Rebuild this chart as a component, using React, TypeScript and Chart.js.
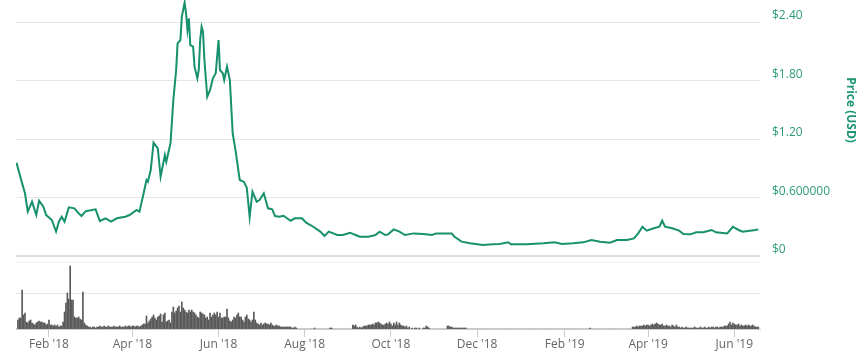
import React, { useEffect, useRef } from 'react';
import { Chart, registerables } from 'chart.js';

Chart.register(...registerables);

// x values are days counted from 2018-02-01
const tickDays = [0, 59, 120, 181, 242, 303, 365, 424, 485];
const tickLabels = ["Feb '18", "Apr '18", "Jun '18", "Aug '18", "Oct '18", "Dec '18", "Feb '19", "Apr '19", "Jun '19"];

const priceTicks = [0, 0.6, 1.2, 1.8, 2.4];
const priceTickLabels = ['$0', '$0.600000', '$1.20', '$1.80', '$2.40'];

const priceDays = [
  -23, -19, -17, -15, -12, -9, -7, -4, -2, 2, 5, 7, 9, 11, 14, 18, 21, 23, 26, 33,
  36, 40, 44, 48, 54, 57, 62, 64, 67, 69, 70, 72, 74, 77, 79, 82, 83, 86, 88, 90,
  91, 93, 94, 96, 97, 98, 99, 100, 102, 103, 105, 106, 107, 108, 109, 110, 112, 114, 116, 118,
  120, 121, 123, 124, 126, 128, 130, 132, 135, 138, 140, 142, 144, 147, 149, 152, 155, 158, 160, 163,
  166, 171, 174, 179, 182, 187, 192, 195, 198, 204, 208, 213, 217, 220, 226, 231, 234, 238, 240, 244,
  248, 252, 258, 265, 271, 274, 285, 287, 292, 298, 307, 314, 319, 325, 327, 338, 350, 358, 363, 371,
  378, 384, 390, 397, 402, 409, 414, 417, 420, 423, 428, 432, 434, 436, 441, 446, 449, 454, 458, 463,
  469, 472, 480, 484, 488, 491, 496, 500, 502,
];
const priceValues = [
  0.957, 0.745, 0.643, 0.455, 0.557, 0.42, 0.567, 0.506, 0.42, 0.369, 0.25, 0.352, 0.403, 0.352, 0.499, 0.489, 0.438, 0.41, 0.46, 0.479,
  0.359, 0.387, 0.352, 0.387, 0.403, 0.42, 0.472, 0.455, 0.643, 0.78, 0.762, 0.882, 1.162, 1.105, 0.813, 1.036, 0.967, 1.156, 1.6, 1.908,
  2.18, 2.215, 2.454, 2.6, 2.49, 2.318, 2.438, 2.164, 2.147, 1.942, 1.823, 1.908, 2.215, 2.352, 2.3, 2.01, 1.634, 1.703, 1.823, 1.874,
  2.215, 1.908, 1.874, 1.805, 1.942, 1.805, 1.258, 1.087, 0.78, 0.76, 0.7, 0.4, 0.66, 0.557, 0.574, 0.643, 0.489, 0.479, 0.41, 0.403,
  0.413, 0.362, 0.387, 0.387, 0.342, 0.3, 0.25, 0.205, 0.25, 0.215, 0.215, 0.239, 0.215, 0.198, 0.198, 0.215, 0.25, 0.215, 0.222, 0.273,
  0.25, 0.215, 0.232, 0.225, 0.215, 0.232, 0.232, 0.198, 0.147, 0.13, 0.113, 0.12, 0.123, 0.14, 0.12, 0.12, 0.13, 0.14, 0.123, 0.13,
  0.14, 0.164, 0.147, 0.137, 0.164, 0.164, 0.181, 0.232, 0.3, 0.26, 0.284, 0.3, 0.362, 0.3, 0.284, 0.26, 0.225, 0.222, 0.243, 0.243,
  0.267, 0.243, 0.232, 0.3, 0.267, 0.25, 0.26, 0.267, 0.273,
];

const volumeStartDay = -23;
const volumeValues = [
  0, 9, 11, 11, 39, 14, 16, 7, 6, 8, // -23
  9, 6, 5, 4, 6, 7, 8, 7, 7, 6, // -13
  6, 4, 5, 9, 4, 4, 3, 4, 3, 4, // -3
  2, 3, 3, 7, 17, 26, 36, 30, 63, 29, // 7
  29, 12, 11, 11, 12, 10, 9, 37, 6, 4, // 17
  3, 2, 2, 1, 2, 2, 1, 2, 2, 3, // 27
  2, 2, 3, 2, 2, 3, 2, 2, 2, 3, // 37
  2, 2, 2, 3, 2, 2, 2, 3, 2, 3, // 47
  3, 2, 3, 3, 2, 3, 3, 2, 3, 4, // 57
  5, 5, 13, 6, 8, 10, 12, 14, 11, 9, // 67
  12, 13, 15, 7, 14, 16, 7, 8, 9, 6, // 77
  17, 22, 16, 18, 21, 23, 17, 27, 21, 19, // 87
  17, 16, 19, 17, 19, 17, 16, 14, 12, 11, // 97
  17, 16, 15, 14, 11, 12, 9, 16, 12, 14, // 107
  16, 14, 17, 12, 16, 11, 11, 12, 12, 20, // 117
  11, 8, 7, 9, 12, 11, 14, 16, 12, 12, // 127
  9, 7, 12, 14, 10, 9, 7, 9, 17, 9, // 137
  6, 5, 4, 6, 4, 5, 6, 5, 5, 4, // 147
  6, 4, 3, 3, 4, 3, 3, 2, 2, 2, // 157
  2, 2, 2, 2, 2, 1, 1, 2, 1, 0, // 167
  0, 0, 0, 0, 0, 0, 0, 0, 0, 0, // 177
  0, 1, 0, 0, 0, 0, 0, 0, 0, 0, // 187
  0, 0, 1, 1, 0, 0, 0, 0, 0, 0, // 197
  0, 0, 0, 0, 0, 0, 0, 0, // 207
  4, 3, 4, 2, 1, 2, 1, 2, 3, 3, // 215
  3, 4, 4, 4, 5, 4, 6, 6, 7, 6, // 225
  5, 4, 4, 5, 6, 5, 7, 5, 3, 6, // 235
  4, 7, 4, 6, 4, 3, 3, 2, 3, 1, // 245
  2, 0, 1, 0, 1, 1, 0, 1, 0, 0, // 255
  1, 1, 3, 2, 1, 0, 0, 0, 0, 0, // 265
  0, 0, 0, 0, 0, 0, 0, // 275
  3, 3, 2, 2, 1, 1, 1, 1, 1, 1, // 282
  1, 1, 1, 1, 0, 0, 0, 0, 0, 0, // 292
  0, 0, 0, 0, 0, 0, 0, 0, 0, 0, // 302
  0, 0, 0, 0, 0, 0, 0, 0, 0, 0, // 312
  0, 0, 0, 0, 0, 0, 0, 0, 0, 0, // 322
  0, 0, 0, 0, 0, 0, 0, 0, 0, 0, // 332
  0, 0, 0, 0, 0, 0, 0, 0, 0, 0, // 342
  0, 0, 0, 0, 0, 0, 0, 0, 0, 0, // 352
  0, 0, 0, 0, 0, 0, 0, 0, 0, 0, // 362
  0, 0, 0, 0, 0, 0, 0, 0, 0, 0, // 372
  0, 1, 0, 0, 0, 0, 0, 0, 0, 0, // 382
  0, 0, 0, 0, 0, 0, 0, 0, 0, 0, // 392
  0, 0, 0, 0, 0, 0, 0, 0, 0, 0, // 402
  0, // 412
  2, 2, 2, 3, 2, 3, 3, 3, 4, 3, // 413
  4, 4, 3, 4, 5, 4, 5, 6, 5, 4, // 423
  4, 5, 3, 3, 4, 3, 3, 2, 4, 3, // 433
  2, 4, 2, 2, 1, 2, 1, 1, 2, 1, // 443
  1, 1, 1, 1, 2, 1, 1, 1, 2, 1, // 453
  1, 2, 1, 1, 2, 1, 2, 2, 1, 2, // 463
  2, 1, 2, 2, 2, 3, 3, 3, 5, 7, // 473
  4, 6, 5, 4, 4, 5, 3, 4, 3, 3, // 483
  4, 3, 4, 3, 3, 4, 3, 2, 2, 2, // 493
];

const LINE_COLOR = '#17916d';
const LABEL_COLOR = '#2e9b7b';

const titlePlugin = {
  id: 'priceTitle',
  afterDraw(chart: any) {
    const s = chart.scales.price;
    const ctx = chart.ctx;
    ctx.save();
    ctx.translate(s.right - 14, s.top + 110);
    ctx.rotate(Math.PI / 2);
    ctx.font = 'bold 12px "Open Sans"';
    ctx.fillStyle = '#1c9672';
    ctx.textAlign = 'center';
    ctx.textBaseline = 'middle';
    ctx.fillText('Price (USD)', 0, 0);
    ctx.restore();
  },
};

const noPad = (s: any) => {
  s.paddingLeft = 0;
  s.paddingRight = 0;
  s.paddingTop = 0;
  s.paddingBottom = 0;
};

export default function App() {
  const ref = useRef<HTMLCanvasElement | null>(null);

  useEffect(() => {
    if (!ref.current) return;
    const priceData = priceDays.map((d, i) => ({ x: d, y: priceValues[i] }));
    const volData = volumeValues.map((v, i) => ({ x: volumeStartDay + i, y: v }));
    const font = { family: '"Open Sans", sans-serif', size: 12 };

    const chart = new Chart(ref.current, {
      type: 'line',
      data: {
        datasets: [
          {
            type: 'line',
            data: priceData,
            yAxisID: 'price',
            borderColor: LINE_COLOR,
            borderWidth: 2,
            pointRadius: 0,
            tension: 0,
            fill: false,
          } as any,
          {
            type: 'bar',
            data: volData,
            yAxisID: 'volume',
            backgroundColor: '#5a5a5a',
            barThickness: 1,
            grouped: false,
          } as any,
        ],
      },
      options: {
        animation: false,
        responsive: false,
        layout: { padding: { left: 16, top: 0, right: 0, bottom: 0 } },
        plugins: { legend: { display: false }, tooltip: { enabled: false } },
        scales: {
          x: {
            type: 'linear',
            offset: false,
            min: -23.35,
            max: 503.2,
            afterBuildTicks: (s: any) => {
              s.ticks = tickDays.map((v) => ({ value: v }));
            },
            afterFit: (s: any) => {
              s.height = 24;
              noPad(s);
            },
            ticks: {
              autoSkip: false,
              maxRotation: 0,
              padding: 0,
              color: '#666666',
              font,
              callback: (v: any) => {
                const i = tickDays.indexOf(Number(v));
                return i >= 0 ? tickLabels[i] : '';
              },
            },
            grid: { offset: false, drawOnChartArea: false, drawTicks: true, tickLength: 8, color: '#cccccc' },
            border: { display: true, color: '#cccccc' },
          },
          price: {
            type: 'linear',
            position: 'right',
            stack: 'main',
            stackWeight: 256,
            weight: 1,
            min: 0,
            max: 2.626,
            afterBuildTicks: (s: any) => {
              s.ticks = priceTicks.map((v) => ({ value: v }));
            },
            afterFit: (s: any) => {
              s.width = 104;
              noPad(s);
            },
            ticks: {
              padding: 12,
              labelOffset: -6,
              color: LABEL_COLOR,
              font,
              callback: (v: any) => {
                const i = priceTicks.indexOf(Number(v));
                return i >= 0 ? priceTickLabels[i] : '';
              },
            },
            grid: {
              drawTicks: false,
              color: (c: any) => (c.tick && c.tick.value === 0 ? '#dddddd' : '#e6e6e6'),
              lineWidth: (c: any) => (c.tick && c.tick.value === 0 ? 2 : 1),
            },
            border: { display: false },
          },
          volume: {
            type: 'linear',
            position: 'right',
            stack: 'main',
            stackWeight: 73,
            weight: 2,
            min: 0,
            max: 73,
            afterBuildTicks: (s: any) => {
              s.ticks = [{ value: 36 }, { value: 67 }];
            },
            afterFit: (s: any) => {
              s.width = 104;
              noPad(s);
            },
            ticks: { display: false },
            grid: {
              drawTicks: false,
              color: (c: any) => (c.tick && c.tick.value === 67 ? '#f2f2f2' : '#e6e6e6'),
            },
            border: { display: false },
          },
        },
      } as any,
      plugins: [titlePlugin],
    });
    return () => chart.destroy();
  }, []);

  return (
    <div style={{ position: 'absolute', left: 0, top: 0, width: 864, height: 353 }}>
      <canvas ref={ref} width={864} height={353} />
    </div>
  );
}
